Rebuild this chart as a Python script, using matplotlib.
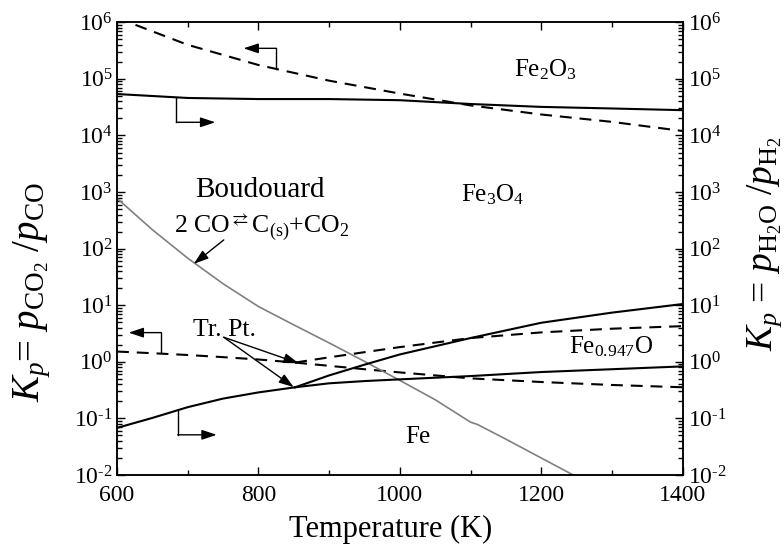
import numpy as np
import matplotlib
matplotlib.use("Agg")
import matplotlib.pyplot as plt
from matplotlib.ticker import MultipleLocator, LogLocator, NullFormatter, FuncFormatter

plt.rcParams['font.family'] = 'Liberation Serif'
plt.rcParams['mathtext.fontset'] = 'custom'
plt.rcParams['mathtext.rm'] = 'Liberation Serif'
plt.rcParams['mathtext.it'] = 'Liberation Serif:italic'
plt.rcParams['mathtext.bf'] = 'Liberation Serif:bold'
plt.rcParams['mathtext.fallback'] = 'stix'
plt.rcParams['axes.unicode_minus'] = False

# ---- data ----
T_top = [600, 700, 800, 900, 1000, 1100, 1200, 1300, 1400]
co_fe2o3_fe3o4 = [1.2e6, 4.0e5, 1.76e5, 9.3e4, 5.5e4, 3.4e4, 2.35e4, 1.74e4, 1.2e4]
h2_fe2o3_fe3o4 = [5.4e4, 4.6e4, 4.4e4, 4.4e4, 4.2e4, 3.6e4, 3.2e4, 3.0e4, 2.8e4]

T_low = [600, 650, 700, 750, 800, 852]
co_fe3o4_fe = [1.52, 1.42, 1.32, 1.21, 1.10, 0.97]
h2_fe3o4_fe = [0.068, 0.102, 0.158, 0.224, 0.288, 0.355]

T_high = [852, 900, 950, 1000, 1100, 1200, 1300, 1400]
co_fe3o4_feo = [0.97, 1.20, 1.48, 1.82, 2.63, 3.31, 3.85, 4.27]
co_feo_fe = [0.97, 0.85, 0.74, 0.65, 0.51, 0.44, 0.39, 0.355]
h2_fe3o4_feo = [0.355, 0.575, 0.89, 1.35, 2.63, 4.9, 7.4, 10.5]
h2_feo_fe = [0.355, 0.417, 0.457, 0.49, 0.56, 0.66, 0.74, 0.83]

T_boud = [600, 650, 700, 750, 800, 850, 900, 950, 1000, 1050, 1100, 1110, 1150, 1200, 1250]
boudouard = [776, 216, 68, 24, 9.5, 4.5, 2.16, 1.02, 0.47, 0.214, 0.086, 0.078, 0.043, 0.020, 0.0093]

x_ticks = [600, 800, 1000, 1200, 1400]

W, H = 784, 544
fig = plt.figure(figsize=(W / 100, H / 100), dpi=100)
ax = fig.add_axes([117 / W, 1 - 475 / H, 565.6 / W, 452.7 / H])
ax2 = ax.twinx()

dash = dict(color='black', lw=1.5, dashes=[5.7, 3.8])
solid = dict(color='black', lw=1.5)

ax.plot(T_top, co_fe2o3_fe3o4, **dash)
ax.plot(T_low, co_fe3o4_fe, **dash)
ax.plot(T_high, co_fe3o4_feo, **dash)
ax.plot(T_high, co_feo_fe, **dash)
ax.plot(T_boud, boudouard, color='#808080', lw=1.2)

ax2.plot(T_top, h2_fe2o3_fe3o4, **solid)
ax2.plot(T_low, h2_fe3o4_fe, **solid)
ax2.plot(T_high, h2_fe3o4_feo, **solid)
ax2.plot(T_high, h2_feo_fe, **solid)

pow_fmt = FuncFormatter(lambda v, p: r'$\mathrm{10}^{\text{%d}}$' % int(round(np.log10(v))))

for a in (ax, ax2):
    a.set_yscale('log')
    a.set_ylim(1e-2, 1e6)
    a.yaxis.set_major_locator(LogLocator(base=10, numticks=20))
    a.yaxis.set_minor_locator(LogLocator(base=10, subs=np.arange(2, 10), numticks=100))
    a.yaxis.set_major_formatter(pow_fmt)
    a.yaxis.set_minor_formatter(NullFormatter())
    for s in a.spines.values():
        s.set_linewidth(1.1)

ax.set_xlim(600, 1400)
ax.set_xticks(x_ticks)
ax.xaxis.set_minor_locator(MultipleLocator(100))

ax.tick_params(which='both', direction='in', top=True, right=False, labelsize=17,
               labelfontfamily='Liberation Serif')
ax.tick_params(which='major', length=6, width=1)
ax.tick_params(which='minor', length=3.5, width=1)
ax.tick_params(axis='x', which='major', pad=7)
ax.tick_params(axis='y', which='major', pad=3)
ax2.tick_params(which='both', direction='in', labelsize=17, labelfontfamily='Liberation Serif')
ax2.tick_params(which='major', length=6, width=1, pad=4)
ax2.tick_params(which='minor', length=3.5, width=1)
ax2.tick_params(axis='x', which='both', bottom=False, top=False, labelbottom=False, labeltop=False)

# axis labels
fig.text(390.5 / W, 1 - 536.5 / H, 'Temperature (K)', ha='center', va='baseline', fontsize=22)
fig.text(32 / W, 1 - 292 / H, r'$K_p$= $p_{\rm CO_2}$ /$p_{\rm CO}$', rotation=90,
         ha='center', va='center', fontsize=28)
fig.text(765 / W, 1 - 244 / H, r'$K_p$ = $p_{\rm H_2O}$ /$p_{\rm H_2}$', rotation=90,
         ha='center', va='center', fontsize=27)

# region labels
ax.text(1161, 10**5.04, 'Fe$_2$O$_3$', fontsize=18, ha='left', va='baseline')
ax.text(1087, 10**2.83, 'Fe$_3$O$_4$', fontsize=18, ha='left', va='baseline')
ax.text(1240, 10**0.152, 'Fe$_{0.947}$O', fontsize=18, ha='left', va='baseline')
ax.text(1007, 10**-1.43, 'Fe', fontsize=18, ha='left', va='baseline')
ax.text(708, 10**0.457, 'Tr. Pt.', fontsize=18.5, ha='left', va='baseline')
ax.text(711, 10**2.908, 'Boudouard', fontsize=21, ha='left', va='baseline')
ax.text(680, 10**2.272, r'2 CO$^{\rightleftarrows}$C$_{\rm (s)}$+CO$_2$', fontsize=18.5,
        ha='left', va='baseline')

arrow = dict(arrowstyle='-|>,head_length=0.6,head_width=0.2', lw=1, color='black',
             shrinkA=0, shrinkB=0, mutation_scale=15)

def step_arrow(x0, y0, y1, x1):
    ax.plot([x0, x0], [y0, y1], color='black', lw=1)
    ax.annotate('', xy=(x1, y1), xytext=(x0, y1), arrowprops=arrow)

step_arrow(824.5, 10**5.175, 10**5.54, 779)
step_arrow(684, 10**4.668, 10**4.233, 739)
step_arrow(662.7, 10**0.152, 10**0.516, 616.5)
step_arrow(686, 10**-0.862, 10**-1.29, 741)

ax.annotate('', xy=(857, 0.944), xytext=(751, 2.72), arrowprops=arrow)
ax.annotate('', xy=(850, 0.356), xytext=(751, 2.72), arrowprops=arrow)
ax.annotate('', xy=(708.5, 53.7), xytext=(751, 142.6), arrowprops=arrow)

fig.savefig('out.png', dpi=100)
